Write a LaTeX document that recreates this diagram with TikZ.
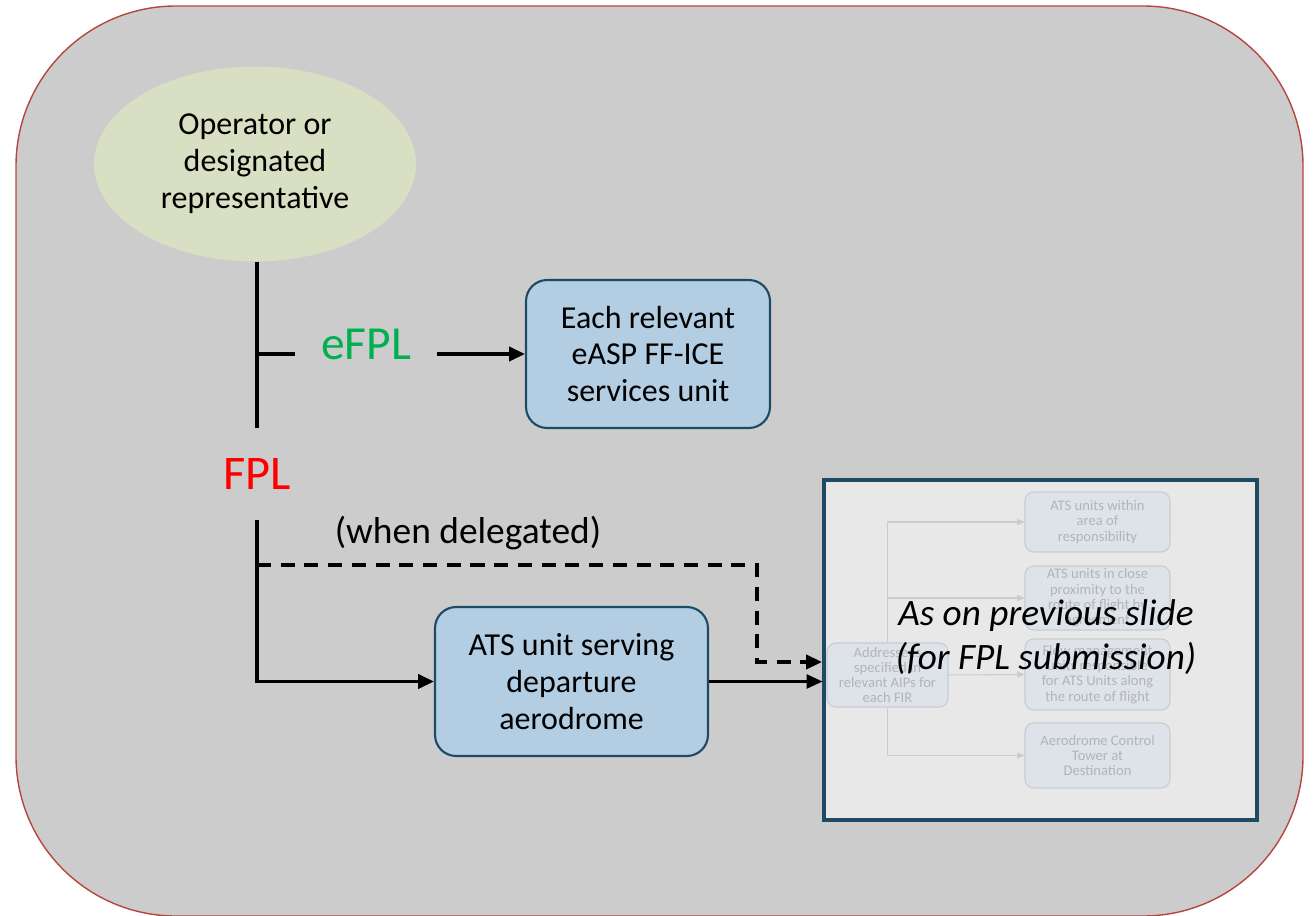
\documentclass[tikz,border=0pt]{standalone}
\usepackage{fontspec}
\setmainfont{Carlito}
\usetikzlibrary{arrows.meta}
\usetikzlibrary{shapes.geometric}
\definecolor{panel}{HTML}{CCCCCC}
\definecolor{panelline}{HTML}{B5473F}
\definecolor{opfill}{HTML}{D8DFC2}
\definecolor{unitfill}{HTML}{B3CDE2}
\definecolor{unitline}{HTML}{1E4A63}
\definecolor{slidefill}{HTML}{E8E8E8}
\definecolor{ghostfill}{HTML}{DEE3EA}
\definecolor{ghostline}{HTML}{C8CCD2}
\definecolor{ghosttext}{HTML}{B2B4B7}
\definecolor{efplgreen}{HTML}{00B050}
\tikzset{unit/.style = {draw = unitline, line width = 1.2pt, fill = unitfill, rounded corners = 12pt,
                        align = center, font = \fontsize{18.2}{21}\selectfont}}
\tikzset{ghost/.style = {draw = ghostline, line width = 0.6pt, fill = ghostfill, rounded corners = 5pt,
                         align = center, text = ghosttext, font = \fontsize{8.3}{8.7}\selectfont, inner sep = 1pt}}
\tikzset{flow/.style = {line width = 2pt}}
\tikzset{arr/.style = {-{Triangle[length = 9pt, width = 8pt]}}}
\tikzset{ghostarr/.style = {draw = ghostline, line width = 0.6pt, -{Triangle[length = 4pt, width = 3.5pt]}}}

\begin{document}
\begin{tikzpicture}[x = 0.02cm, y = -0.02cm]
      \useasboundingbox (0, 0) rectangle (1316, 916);
      \draw [fill = panel, draw = panelline, line width = 0.8pt, rounded corners = 3.2cm] (16, 6) rectangle (1303, 916);

      \node [ellipse, fill = opfill, minimum width = 6.44cm, minimum height = 3.9cm, align = center,
             font = \fontsize{18.2}{21}\selectfont] (op) at (255, 164) {Operator or\\designated\\representative};

      \node [unit, minimum width = 4.88cm, minimum height = 2.96cm] (each) at (648, 354) {Each relevant\\eASP FF-ICE\\services unit};
      \node [unit, minimum width = 5.46cm, minimum height = 2.98cm] (ats) at (571.5, 681.5) {ATS unit serving\\departure\\aerodrome};

      \node [text = efplgreen, font = \fontsize{27}{30}\selectfont] (efpl) at (366, 344) {eFPL};
      \node [text = red, font = \fontsize{27.5}{30}\selectfont] (fpl) at (257, 474) {FPL};
      \node [font = \fontsize{21.3}{25}\selectfont] (deleg) at (468, 533) {(when delegated)};

      % screenshot of the previous slide
      \node [draw = unitline, line width = 1.8pt, fill = slidefill, minimum width = 8.66cm, minimum height = 6.8cm] (prev) at (1040.5, 650) {};
      \node [ghost, minimum width = 2.42cm, minimum height = 1.28cm] (addr) at (887.5, 675) {Addressees\\specified in\\relevant AIPs for\\each FIR};
      \node [ghost, minimum width = 2.9cm, minimum height = 1.2cm] (within) at (1097.5, 522) {ATS units within\\area of\\responsibility};
      \node [ghost, minimum width = 2.9cm, minimum height = 1.28cm] (close) at (1097.5, 598) {ATS units in close\\proximity to the\\route of flight by\\agreement};
      \node [ghost, minimum width = 2.9cm, minimum height = 1.42cm] (flowmu) at (1097.5, 674.5) {Flow management\\units responsible\\for ATS Units along\\the route of flight};
      \node [ghost, minimum width = 2.9cm, minimum height = 1.3cm] (tower) at (1097.5, 755.5) {Aerodrome Control\\Tower at\\Destination};
      \draw [ghostarr] (addr.north) |- (within.west);
      \draw [ghostarr] (addr.north) |- (close.west);
      \draw [ghostarr] (addr.east) -- (flowmu.west);
      \draw [ghostarr] (addr.south) |- (tower.west);
      \node [align = center, font = \fontsize{21.2}{25}\selectfont\itshape] (asprev) at (1046, 637) {As on previous slide\\(for FPL submission)};

      % FPL submission paths
      \coordinate (upperEnd) at (257, 428);
      \coordinate (tick) at (295, 354);
      \coordinate (efplOut) at (437, 354);
      \coordinate (lowerTop) at (257, 520);
      \coordinate (delegFork) at (257, 565);
      \coordinate (delegIn) at (822, 662);

      \draw [flow] (op.south -| upperEnd) -- (upperEnd);
      \draw [flow] (upperEnd |- tick) -- (tick);
      \draw [flow, arr] (efplOut) -- (each.west);

      \draw [flow, arr] (lowerTop) |- (ats.west);
      \draw [flow, dash pattern = on 8pt off 5.5pt, arr] (delegFork) -| (757, 662) -- (delegIn);
      \draw [line width = 1.2pt, arr] (ats.east) -- (prev.west |- ats.east);
\end{tikzpicture}
\end{document}
